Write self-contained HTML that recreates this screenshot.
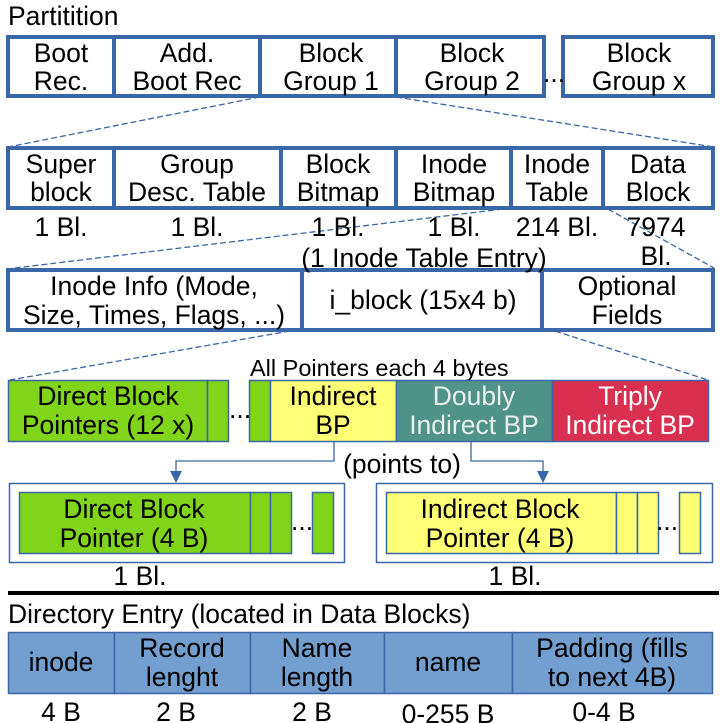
<!DOCTYPE html>
<html><head><meta charset="utf-8"><style>
body{margin:0;background:#fff}
svg{display:block}
text{font-family:"Liberation Sans",sans-serif;font-size:26.5px;fill:#000}
</style></head><body>
<svg width="721" height="723" viewBox="0 0 721 723">
<g fill="none" stroke="#3a67a8" stroke-width="1.3" stroke-dasharray="6,3">
<line x1="260" y1="97" x2="8" y2="147"/><line x1="396" y1="97" x2="714" y2="147"/>
<line x1="503" y1="209" x2="15" y2="268"/><line x1="608" y1="209" x2="714" y2="268"/>
<line x1="290" y1="331" x2="10" y2="380"/><line x1="555" y1="331" x2="708" y2="380"/>
</g>
<text x="8" y="25">Partitition</text>
<g fill="#fff" stroke="#3a67a8" stroke-width="4">
<rect x="8" y="37" width="106" height="59"/><rect x="114" y="37" width="146" height="59"/>
<rect x="260" y="37" width="136" height="59"/><rect x="396" y="37" width="148" height="59"/>
<rect x="563" y="37" width="150" height="59"/>
<rect x="8" y="148" width="106" height="60"/><rect x="114" y="148" width="167" height="60"/>
<rect x="281" y="148" width="115" height="60"/><rect x="396" y="148" width="115" height="60"/>
<rect x="511" y="148" width="92" height="60"/><rect x="603" y="148" width="110" height="60"/>
<rect x="8" y="270" width="294" height="60"/><rect x="302" y="270" width="240" height="60"/>
<rect x="542" y="270" width="171" height="60"/>
</g>
<g text-anchor="middle">
<text x="61" y="62">Boot</text><text x="61" y="90">Rec.</text>
<text x="187" y="62">Add.</text><text x="187" y="90">Boot Rec</text>
<text x="331" y="62">Block</text><text x="331" y="90">Group 1</text>
<text x="472" y="62">Block</text><text x="472" y="90">Group 2</text>
<text x="639" y="62">Block</text><text x="639" y="90">Group x</text>
<text x="61" y="173">Super</text><text x="61" y="201">block</text>
<text x="197" y="173">Group</text><text x="197" y="201">Desc. Table</text>
<text x="338" y="173">Block</text><text x="338" y="201">Bitmap</text>
<text x="454" y="173">Inode</text><text x="454" y="201">Bitmap</text>
<text x="557" y="173">Inode</text><text x="557" y="201">Table</text>
<text x="658" y="173">Data</text><text x="658" y="201">Block</text>
<text x="61" y="236">1 Bl.</text><text x="197" y="236">1 Bl.</text><text x="338" y="236">1 Bl.</text>
<text x="454" y="236">1 Bl.</text><text x="557" y="236">214 Bl.</text>
<text x="656" y="236">7974</text><text x="656" y="265">Bl.</text>
<text x="424" y="267">(1 Inode Table Entry)</text>
<text x="154" y="295">Inode Info (Mode,</text><text x="154" y="324">Size, Times, Flags, ...)</text>
<text x="423" y="309">i_block (15x4 b)</text>
<text x="627" y="295">Optional</text><text x="627" y="324">Fields</text>
</g>
<text x="543" y="82">...</text>
<text x="250" y="376" style="font-size:23.5px">All Pointers each 4 bytes</text>
<g stroke="#3a67a8" stroke-width="1.5">
<rect x="8.5" y="380.5" width="199" height="61" fill="#80d41a"/><rect x="207.5" y="380.5" width="21" height="61" fill="#80d41a"/>
<rect x="249.5" y="380.5" width="21" height="61" fill="#80d41a"/><rect x="270.5" y="380.5" width="126" height="61" fill="#ffff77"/>
<rect x="396.5" y="380.5" width="156" height="61" fill="#4f9287"/><rect x="552.5" y="380.5" width="156" height="61" fill="#d9304f"/>
</g>
<text x="229" y="418">...</text>
<g text-anchor="middle">
<text x="108" y="405">Direct Block</text><text x="108" y="434">Pointers (12 x)</text>
<text x="333" y="405">Indirect</text><text x="333" y="434">BP</text>
<text x="474" y="405" style="fill:#e8f0ee">Doubly</text><text x="474" y="434" style="fill:#e8f0ee">Indirect BP</text>
<text x="630" y="405" style="fill:#fff">Triply</text><text x="630" y="434" style="fill:#fff">Indirect BP</text>
<text x="402" y="473">(points to)</text>
</g>
<g fill="none" stroke="#3a67a8" stroke-width="1.3">
<polyline points="334,441 334,461 176,461 176,472"/><polyline points="471,441 471,461 543,461 543,472"/>
</g>
<polygon points="170,471 182,471 176,483" fill="#3a67a8"/><polygon points="537,471 549,471 543,483" fill="#3a67a8"/>
<g stroke="#3a67a8" stroke-width="1.5">
<rect x="9.5" y="483.5" width="335" height="79" fill="#fff"/><rect x="376.5" y="483.5" width="336" height="79" fill="#fff"/>
<rect x="19.5" y="492.5" width="231" height="61" fill="#80d41a"/><rect x="250.5" y="492.5" width="20" height="61" fill="#80d41a"/>
<rect x="270.5" y="492.5" width="21" height="61" fill="#80d41a"/><rect x="312.5" y="492.5" width="21" height="61" fill="#80d41a"/>
<rect x="386.5" y="492.5" width="230" height="61" fill="#ffff77"/><rect x="616.5" y="492.5" width="21" height="61" fill="#ffff77"/>
<rect x="637.5" y="492.5" width="21" height="61" fill="#ffff77"/><rect x="679.5" y="492.5" width="21" height="61" fill="#ffff77"/>
</g>
<text x="291" y="530">...</text><text x="656" y="530">...</text>
<g text-anchor="middle">
<text x="134" y="518">Direct Block</text><text x="134" y="547">Pointer (4 B)</text>
<text x="500" y="518">Indirect Block</text><text x="500" y="547">Pointer (4 B)</text>
<text x="140" y="585">1 Bl.</text><text x="515" y="585">1 Bl.</text>
</g>
<rect x="8" y="591" width="711" height="4" fill="#000"/>
<text x="8" y="623">Directory Entry (located in Data Blocks)</text>
<g stroke="#3a67a8" stroke-width="1.5" fill="#729fcf">
<rect x="8.5" y="632.5" width="106" height="61"/><rect x="114.5" y="632.5" width="136" height="61"/>
<rect x="250.5" y="632.5" width="134" height="61"/><rect x="384.5" y="632.5" width="128" height="61"/>
<rect x="512.5" y="632.5" width="200" height="61"/>
</g>
<g text-anchor="middle">
<text x="61" y="671">inode</text>
<text x="182" y="657">Record</text><text x="182" y="686">lenght</text>
<text x="317" y="657">Name</text><text x="317" y="686">length</text>
<text x="448" y="671">name</text>
<text x="612" y="657">Padding (fills</text><text x="612" y="686">to next 4B)</text>
<text x="61" y="721">4 B</text><text x="176" y="721">2 B</text><text x="312" y="721">2 B</text>
<text x="448" y="723">0-255 B</text><text x="604" y="721">0-4 B</text>
</g>
</svg>
</body></html>
